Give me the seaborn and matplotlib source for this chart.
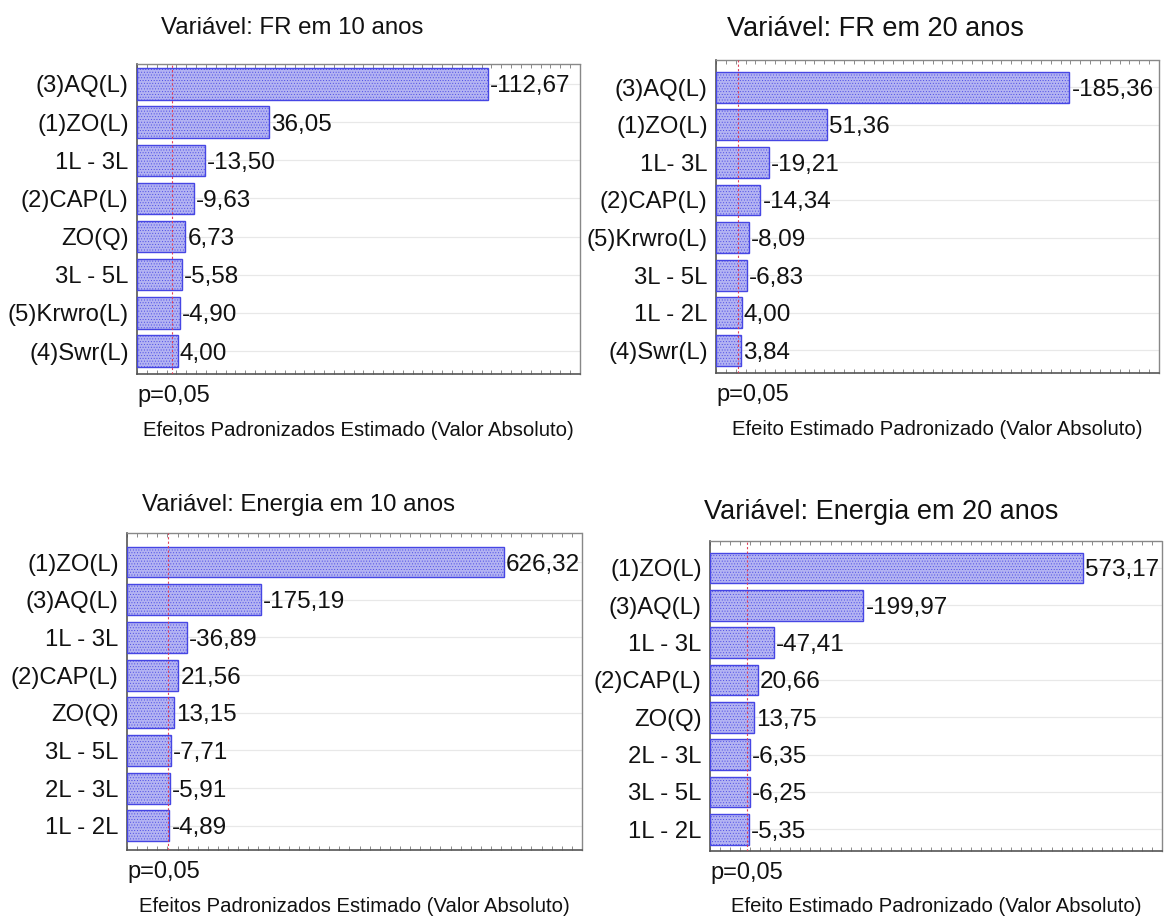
import numpy as np
import pandas as pd
import matplotlib
matplotlib.use("Agg")
import matplotlib.pyplot as plt
import seaborn as sns

sns.set_style("white")
plt.rcParams['font.family'] = ['Liberation Sans', 'DejaVu Sans']
plt.rcParams['hatch.linewidth'] = 0.35

# ---------------- data ----------------
tl_title = "Variável: FR em 10 anos"
tl_labels = ["(3)AQ(L)", "(1)ZO(L)", "1L - 3L", "(2)CAP(L)", "ZO(Q)", "3L - 5L", "(5)Krwro(L)", "(4)Swr(L)"]
tl_values = [-112.67, 36.05, -13.50, -9.63, 6.73, -5.58, -4.90, 4.00]
tl_xlabel = "Efeitos Padronizados Estimado (Valor Absoluto)"

tr_title = "Variável: FR em 20 anos"
tr_labels = ["(3)AQ(L)", "(1)ZO(L)", "1L- 3L", "(2)CAP(L)", "(5)Krwro(L)", "3L - 5L", "1L - 2L", "(4)Swr(L)"]
tr_values = [-185.36, 51.36, -19.21, -14.34, -8.09, -6.83, 4.00, 3.84]
tr_xlabel = "Efeito Estimado Padronizado (Valor Absoluto)"

bl_title = "Variável: Energia em 10 anos"
bl_labels = ["(1)ZO(L)", "(3)AQ(L)", "1L - 3L", "(2)CAP(L)", "ZO(Q)", "3L - 5L", "2L - 3L", "1L - 2L"]
bl_values = [626.32, -175.19, -36.89, 21.56, 13.15, -7.71, -5.91, -4.89]
bl_xlabel = "Efeitos Padronizados Estimado (Valor Absoluto)"

br_title = "Variável: Energia em 20 anos"
br_labels = ["(1)ZO(L)", "(3)AQ(L)", "1L - 3L", "(2)CAP(L)", "ZO(Q)", "2L - 3L", "3L - 5L", "1L - 2L"]
br_values = [573.17, -199.97, -47.41, 20.66, 13.75, -6.35, -6.25, -5.35]
br_xlabel = "Efeito Estimado Padronizado (Valor Absoluto)"

p_label = "p=0,05"
p_critical = 2.1

# ---------------- layout / style ----------------
W, H = 1165, 916
fig = plt.figure(figsize=(W / 100, H / 100), dpi=100)

panels = [
    # title, labels, values, xlabel, box(l,t,r,b) px, xlim, ylim margins, title(x,y,size)
    (tl_title, tl_labels, tl_values, tl_xlabel, (137, 64, 580, 374), (-10.2, 145), (0.52, 0.60), (161, 28, 17.3)),
    (tr_title, tr_labels, tr_values, tr_xlabel, (716, 60, 1159, 373), (-10.2, 235), (0.72, 0.60), (727, 29, 19.5)),
    (bl_title, bl_labels, bl_values, bl_xlabel, (127, 533, 582, 850), (-74, 772), (0.77, 0.64), (142, 505, 17.3)),
    (br_title, br_labels, br_values, br_xlabel, (710, 541, 1162, 851), (-61, 708), (0.72, 0.58), (704, 512, 19.5)),
]

face = "#b3b3f2"
edge = "#4646e4"

for title, labels, values, xlabel, (l, t, r, b), (x0, x1), (mtop, mbot), (tx, ty, tsize) in panels:
    ax = fig.add_axes([l / W, 1 - b / H, (r - l) / W, (b - t) / H])
    df = pd.DataFrame({"term": labels, "effect": values})
    df["abs_effect"] = df["effect"].abs()
    sns.barplot(data=df, x="abs_effect", y="term", orient="h", ax=ax,
                color=face, width=0.82, saturation=1, edgecolor=edge,
                linewidth=1.0, zorder=3)
    # bars start at the left border of the axis (as in the original software)
    for patch in ax.patches:
        w = patch.get_width()
        patch.set_x(x0)
        patch.set_width(w - x0)
        patch.set_hatch("......")
        patch.set_facecolor(face)
        patch.set_edgecolor(edge)
    ax.set_xlim(x0, x1)
    ax.set_ylim(len(labels) - 1 + mbot, -mtop)

    # value labels
    for i, v in enumerate(values):
        s = f"{v:.2f}".replace(".", ",")
        ax.annotate(s, xy=(abs(v), i), xytext=(1.5, 0), textcoords="offset points",
                    ha="left", va="center_baseline", fontsize=17.5, color="#111111", zorder=5)

    # faint horizontal grid at each bar
    for i in range(len(labels)):
        ax.axhline(i, color="#e8e8e8", lw=0.9, zorder=1)
    # critical value line
    ax.axvline(p_critical, color="#e0405a", lw=0.8, ls=(0, (2, 2)), zorder=4)

    ax.set_xlabel("")
    ax.set_ylabel("")
    ax.tick_params(axis="y", length=0, pad=6, labelsize=17.2, labelcolor="#111111")
    for lab in ax.get_yticklabels():
        lab.set_verticalalignment("center_baseline")
    ax.set_xticks(np.linspace(x0, x1, 46))
    ax.set_xticklabels([])
    ax.tick_params(axis="x", which="both", direction="in", length=3, width=0.6,
                   color="#777777", top=True, bottom=True)
    for side in ["left", "bottom"]:
        ax.spines[side].set_color("#555555")
        ax.spines[side].set_linewidth(1.2)
    for side in ["top", "right"]:
        ax.spines[side].set_visible(True)
        ax.spines[side].set_color("#888888")
        ax.spines[side].set_linewidth(1.0)
        ax.spines[side].set_linestyle((0, (1, 1)))

    # texts below and above
    fig.text(l / W, 1 - (b + 22) / H, p_label, ha="left", va="center",
             fontsize=17, color="#111111")
    fig.text((l + r) / 2 / W, 1 - (b + 56) / H, xlabel, ha="center", va="center",
             fontsize=14.6, color="#111111")
    fig.text(tx / W, 1 - ty / H, title, ha="left", va="center",
             fontsize=tsize, color="#111111")

fig.savefig("out.png", dpi=100, facecolor="white")
